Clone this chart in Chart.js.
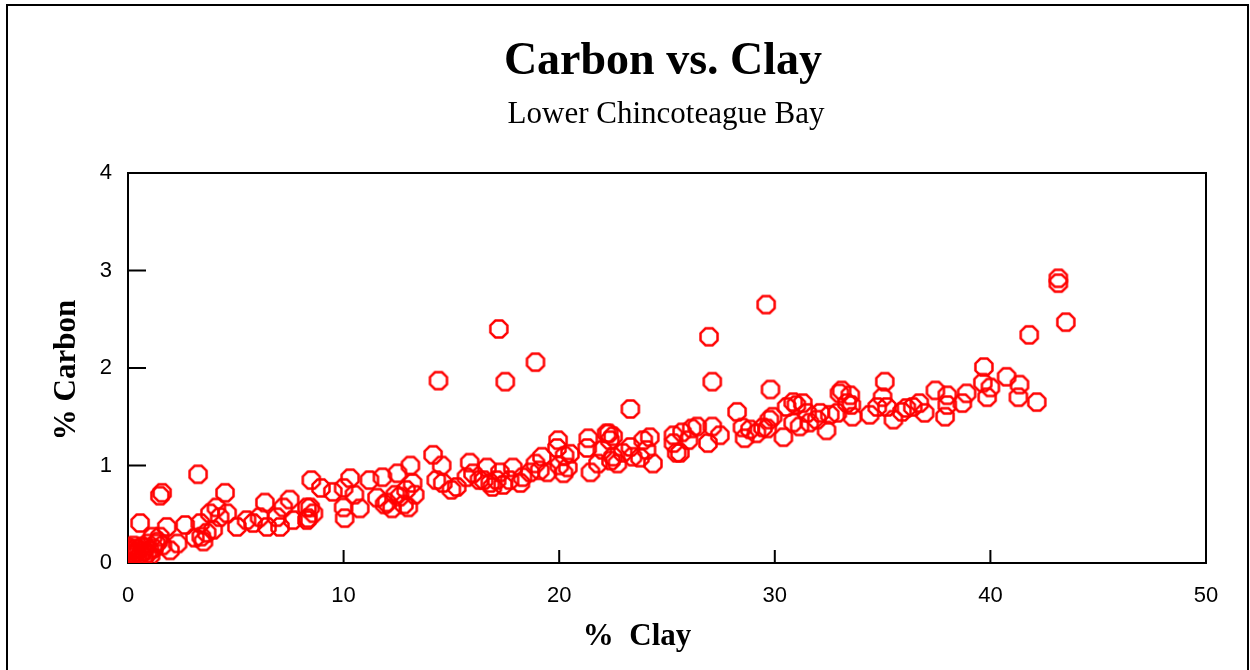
<!DOCTYPE html>
<html lang="en">
<head>
    <meta charset="UTF-8">
    <title>Carbon vs. Clay</title>
    <script src="https://cdn.jsdelivr.net/npm/chart.js@4.4.1/dist/chart.umd.min.js"></script>
    <style>
        body { margin: 0; background: #fff; }
        #wrap { width: 1250px; height: 670px; }
    </style>
</head>
<body>
    <div id="wrap"><canvas id="chart" width="1250" height="670"></canvas></div>

    <script>
        // % clay and % carbon
        const clay = [
            0.0, 0.05, 0.1, 0.2, 0.3, 0.35, 0.4, 0.5, 0.6, 0.7, 0.8, 0.9, 1.0,
            0.15, 0.25, 0.45, 0.65, 0.75, 0.0, 0.2,
            0.56, 1.58, 1.48, 3.25, 4.5, 1.8, 2.65, 3.35, 3.8, 4.1, 4.25, 4.6,
            3.65, 3.1, 3.95, 2.3, 1.95, 1.15, 1.48, 1.3, 0.9, 1.05, 1.2, 1.4, 1.6,
            3.4, 3.5, 5.05, 5.5, 5.8, 6.1, 6.45, 6.35, 6.9, 7.2, 7.5, 7.65, 7.05,
            8.3, 8.45, 8.6, 8.5, 8.95, 8.3, 8.35, 9.5, 10.0, 10.3, 10.0, 10.05,
            10.5, 10.75, 11.2, 11.8, 11.55, 12.0, 12.25, 12.5, 12.6, 12.9, 13.1,
            13.2, 13.0, 13.3, 12.8, 12.4, 11.9, 14.15, 14.55, 14.3, 14.6, 15.0,
            15.25, 15.7, 16.0, 15.85, 16.3, 16.65, 16.8, 17.1, 14.4, 17.2, 18.9,
            17.5, 23.3, 19.95, 19.9, 20.25, 20.4, 20.2, 19.2, 18.9, 19.45, 19.1,
            17.25, 17.85, 18.3, 18.65, 18.2, 16.9, 16.5, 17.4, 17.7, 20.0, 20.5,
            21.35, 21.3, 21.45, 22.2, 22.35, 22.0, 22.5, 22.7, 22.4, 22.95, 21.8,
            22.3, 22.5, 23.3, 23.4, 23.9, 24.2, 24.05, 24.35, 23.75, 25.3, 25.45,
            29.6, 26.95, 27.1, 29.8, 28.25, 25.7, 26.15, 26.4, 27.1, 27.45, 26.9,
            25.6, 25.3, 26.0, 28.5, 28.6, 28.85, 29.15, 29.45, 29.75, 29.9, 29.65,
            30.4, 30.55, 30.85, 31.0, 31.3, 31.5, 30.85, 31.15, 31.6, 32.1, 31.95,
            32.4, 32.55, 32.9, 33.0, 33.1, 33.35, 33.6, 33.55, 33.5, 43.15, 43.15,
            43.5, 41.8, 39.7, 40.75, 41.35, 42.15, 41.3, 39.65, 40.0, 39.85, 38.9,
            38.7, 38.0, 38.0, 37.9, 37.45, 36.95, 36.7, 36.4, 36.1, 35.9, 35.5,
            35.1, 35.0, 35.2, 34.75, 34.4
        ];
        const carbon = [
            0.12, 0.15, 0.1, 0.13, 0.08, 0.15, 0.11, 0.14, 0.09, 0.12, 0.16, 0.1, 0.13,
            0.06, 0.18, 0.05, 0.17, 0.06, 0.16, 0.09,
            0.41, 0.72, 0.69, 0.91, 0.72, 0.37, 0.39, 0.41, 0.51, 0.57, 0.47, 0.51,
            0.31, 0.26, 0.34, 0.2, 0.13, 0.27, 0.27, 0.2, 0.2, 0.08, 0.15, 0.22, 0.18,
            0.27, 0.22, 0.37, 0.44, 0.41, 0.47, 0.37, 0.62, 0.47, 0.57, 0.65, 0.44, 0.37,
            0.44, 0.57, 0.51, 0.85, 0.77, 0.57, 0.46, 0.73, 0.77, 0.87, 0.57, 0.46,
            0.7, 0.56, 0.85, 0.88, 0.67, 0.62, 0.56, 0.92, 0.68, 0.75, 1.0,
            0.82, 0.57, 0.7, 0.6, 0.7, 0.6, 1.11, 1.0, 0.85, 0.82, 0.75,
            0.78, 0.88, 0.92, 1.03, 0.85, 0.98, 0.82, 0.85, 1.87, 2.4, 2.06,
            1.86, 1.58, 1.26, 1.18, 1.1, 0.98, 0.92, 1.09, 1.02, 0.93, 0.95,
            0.93, 0.98, 0.88, 0.93, 0.82, 0.78, 0.85, 0.8, 0.85, 1.0, 1.12,
            1.28, 1.18, 0.93, 1.33, 1.26, 1.16, 1.09, 1.02, 1.05, 1.13, 1.02,
            1.33, 1.3, 1.19, 1.09, 1.26, 1.29, 1.16, 1.02, 1.08, 1.31, 1.13,
            2.65, 2.32, 1.86, 1.78, 1.55, 1.34, 1.38, 1.4, 1.4, 1.31, 1.23,
            1.13, 1.23, 1.26, 1.39, 1.28, 1.37, 1.33, 1.39, 1.47, 1.5, 1.38,
            1.29, 1.6, 1.65, 1.62, 1.64, 1.54, 1.44, 1.4, 1.44, 1.54, 1.47,
            1.36, 1.52, 1.54, 1.74, 1.77, 1.64, 1.5, 1.62, 1.72, 2.92, 2.87,
            2.47, 2.34, 2.01, 1.91, 1.83, 1.65, 1.7, 1.85, 1.8, 1.7, 1.74,
            1.64, 1.72, 1.62, 1.5, 1.77, 1.54, 1.64, 1.6, 1.59, 1.55, 1.47,
            1.86, 1.7, 1.6, 1.6, 1.52
        ];
        const xTicks = [0, 10, 20, 30, 40, 50];
        const yTicks = [0, 1, 2, 3, 4];

        const points = clay.map((c, i) => ({ x: c, y: carbon[i] }));

        // hollow octagon marker like the original plotting package
        function makeOctagon(r, color, lw) {
            const size = Math.ceil(r * 2 + lw * 2);
            const cv = document.createElement('canvas');
            cv.width = size;
            cv.height = size;
            const c = cv.getContext('2d');
            c.strokeStyle = color;
            c.lineWidth = lw;
            c.beginPath();
            for (let k = 0; k < 8; k++) {
                const a = Math.PI / 8 + k * Math.PI / 4;
                const px = size / 2 + r * Math.cos(a);
                const py = size / 2 + r * Math.sin(a);
                if (k === 0) c.moveTo(px, py); else c.lineTo(px, py);
            }
            c.closePath();
            c.stroke();
            return cv;
        }
        const marker = makeOctagon(9.2, '#ff0000', 2.5);

        const serif = '"Liberation Serif", "Times New Roman", serif';

        const framePlugin = {
            id: 'frame',
            beforeDatasetsDraw(chart) {
                const ctx = chart.ctx;
                const a = chart.chartArea;
                const xs = chart.scales.x, ys = chart.scales.y;
                ctx.save();
                ctx.strokeStyle = '#000';
                ctx.lineWidth = 2;
                ctx.strokeRect(a.left, a.top, a.right - a.left, a.bottom - a.top);
                // inward tick marks
                ctx.beginPath();
                xTicks.forEach(v => {
                    const px = xs.getPixelForValue(v);
                    ctx.moveTo(px, a.bottom);
                    ctx.lineTo(px, a.bottom - 13);
                });
                yTicks.forEach(v => {
                    const py = ys.getPixelForValue(v);
                    ctx.moveTo(a.left, py);
                    ctx.lineTo(a.left + 18, py);
                });
                ctx.stroke();
                ctx.restore();
            },
            afterDraw(chart) {
                const ctx = chart.ctx;
                ctx.save();
                // outer frame
                ctx.strokeStyle = '#000';
                ctx.lineWidth = 2;
                ctx.strokeRect(7, 5, 1241, 700);

                ctx.fillStyle = '#000';
                ctx.textAlign = 'center';
                ctx.textBaseline = 'alphabetic';
                ctx.font = 'bold 46px ' + serif;
                ctx.fillText('Carbon vs. Clay', 663, 74);
                ctx.font = '31px ' + serif;
                ctx.fillText('Lower Chincoteague Bay', 666, 123);

                ctx.font = 'bold 31px ' + serif;
                ctx.fillText('%  Clay', 637, 645);

                ctx.translate(75, 370);
                ctx.rotate(-Math.PI / 2);
                ctx.fillText('% Carbon', 0, 0);
                ctx.restore();
            }
        };

        new Chart(document.getElementById('chart'), {
            type: 'scatter',
            data: {
                datasets: [{
                    data: points,
                    pointStyle: marker,
                    pointRadius: 9,
                    borderColor: '#ff0000',
                    backgroundColor: 'rgba(0,0,0,0)'
                }]
            },
            options: {
                responsive: false,
                animation: false,
                layout: { padding: { left: 8, right: 44, top: 173, bottom: 27 } },
                plugins: {
                    legend: { display: false },
                    tooltip: { enabled: false }
                },
                scales: {
                    x: {
                        type: 'linear',
                        min: 0,
                        max: 50,
                        afterBuildTicks: s => { s.ticks = xTicks.map(v => ({ value: v })); },
                        afterFit: s => { s.height = 80; },
                        grid: { display: false, drawTicks: false },
                        border: { display: false },
                        ticks: {
                            color: '#000',
                            padding: 20,
                            font: { family: '"Liberation Sans", Arial, sans-serif', size: 22 }
                        }
                    },
                    y: {
                        type: 'linear',
                        min: 0,
                        max: 4,
                        afterBuildTicks: s => { s.ticks = yTicks.map(v => ({ value: v })); },
                        afterFit: s => { s.width = 120; },
                        grid: { display: false, drawTicks: false },
                        border: { display: false },
                        ticks: {
                            color: '#000',
                            padding: 16,
                            font: { family: '"Liberation Sans", Arial, sans-serif', size: 22 }
                        }
                    }
                }
            },
            plugins: [framePlugin]
        });
    </script>
</body>
</html>
